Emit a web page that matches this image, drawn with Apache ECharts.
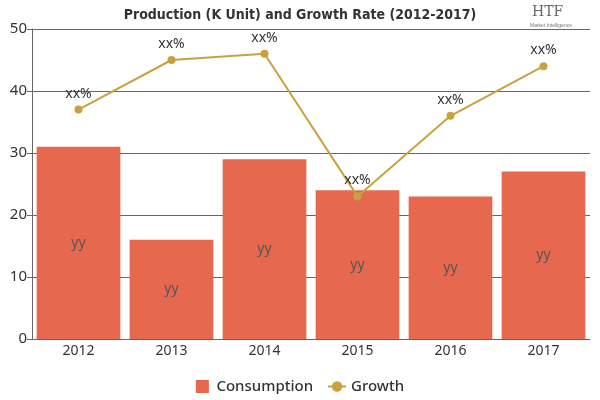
<!DOCTYPE html>
<html>
<head>
<meta charset="utf-8">
<script src="https://cdn.jsdelivr.net/npm/echarts@6/dist/echarts.min.js"></script>
<style>
  html, body { margin: 0; padding: 0; background: #fff; }
  #chart { width: 600px; height: 400px; }
</style>
</head>
<body>
<div id="chart"></div>
<script>
/* ── data ── */
const years = ["2012", "2013", "2014", "2015", "2016", "2017"];
const consumption = [31, 16, 29, 24, 23, 27];
const growth = [37, 45, 46, 23, 36, 44];
const barLabel = "yy";
const lineLabel = "xx%";

const BAR = "#e6694f";
const LINE = "#c9a13f";

const chart = echarts.init(document.getElementById("chart"));

chart.setOption({
  animation: false,
  title: {
    text: "Production (K Unit) and Growth Rate (2012-2017)",
    left: "center", top: 3,
    textStyle: { fontFamily: "DejaVu Sans Condensed", fontWeight: "bold", fontSize: 14, color: "#333" },
  },
  graphic: [
    { type: "text", left: 532, top: 5, style: { text: "HTF", fontFamily: "DejaVu Serif", fontSize: 14, fill: "#666" } },
    { type: "text", left: 530, top: 23, style: { text: "Market Intelligence", fontFamily: "Liberation Sans", fontSize: 5, fill: "#777" } },
  ],
  legend: {
    bottom: 1, left: "center", itemGap: 14, itemWidth: 18, itemHeight: 13,
    textStyle: { fontFamily: "Noto Sans", fontSize: 15, fontWeight: 500, color: "#333" },
    data: [
      { name: "Consumption", icon: "path://M0,0h10v10h-10z" },
      { name: "Growth" },
    ],
  },
  grid: { left: 32, right: 10, top: 29, bottom: 61 },
  xAxis: {
    type: "category", data: years,
    axisLine: { lineStyle: { color: "#666" } },
    axisTick: { alignWithLabel: true, lineStyle: { color: "#666" } },
    axisLabel: { fontFamily: "Noto Sans", fontSize: 14, color: "#333", margin: 5 },
  },
  yAxis: {
    type: "value", min: 0, max: 50, interval: 10,
    axisLine: { show: true, lineStyle: { color: "#666" } },
    axisTick: { show: true, lineStyle: { color: "#666" } },
    axisLabel: { fontFamily: "Noto Sans", fontSize: 15, color: "#333", margin: 5 },
    splitLine: { lineStyle: { color: "#666" } },
  },
  series: [
    {
      name: "Consumption", type: "bar", data: consumption, barWidth: "90%",
      itemStyle: { color: BAR },
      label: { show: true, position: "inside", formatter: barLabel, fontFamily: "Noto Sans", fontSize: 14, color: "#555" },
      z: 2,
    },
    {
      name: "Growth", type: "line", data: growth,
      symbol: "circle", symbolSize: 8,
      lineStyle: { color: LINE, width: 2 },
      itemStyle: { color: LINE },
      label: { show: true, position: "top", distance: 5, formatter: lineLabel, fontFamily: "Noto Sans", fontSize: 14, color: "#333" },
      z: 3,
    },
  ],
});
</script>
</body>
</html>
